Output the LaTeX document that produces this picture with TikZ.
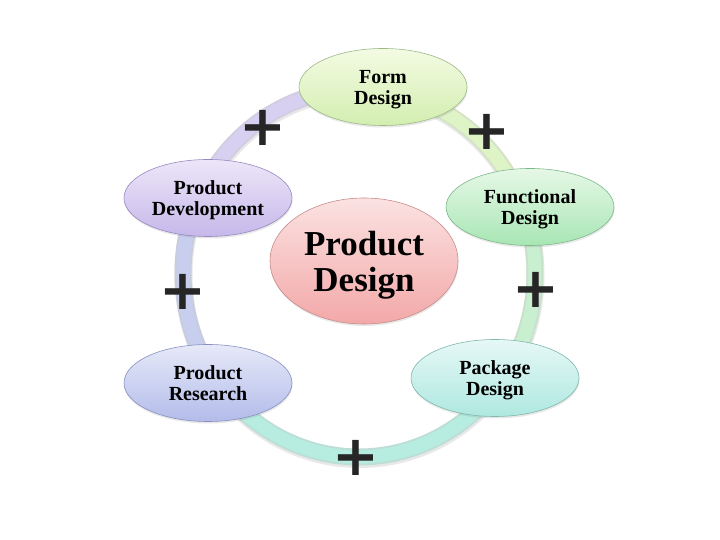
\documentclass[tikz,border=0pt]{standalone}
\usepackage{fontspec}
\setmainfont{Liberation Serif}
\newfontfamily\plusfont{DejaVu Sans}
\usetikzlibrary{shapes.geometric,shadows}

\definecolor{formT}{HTML}{F3FBE3}\definecolor{formB}{HTML}{D3EEB0}\definecolor{formD}{HTML}{9DB987}
\definecolor{funcT}{HTML}{E6F8E6}\definecolor{funcB}{HTML}{A8E6B4}\definecolor{funcD}{HTML}{7DB88B}
\definecolor{packT}{HTML}{E6F8F6}\definecolor{packB}{HTML}{AEE8E0}\definecolor{packD}{HTML}{80B8B0}
\definecolor{resT}{HTML}{E6E9F8}\definecolor{resB}{HTML}{B3BCEA}\definecolor{resD}{HTML}{8890C0}
\definecolor{devT}{HTML}{EDE6F8}\definecolor{devB}{HTML}{C6B8EA}\definecolor{devD}{HTML}{9888C0}
\definecolor{cenT}{HTML}{FBE2E2}\definecolor{cenB}{HTML}{F3A8A8}\definecolor{cenD}{HTML}{C88C8C}
\definecolor{ringA}{HTML}{DEF3C6}
\definecolor{ringB}{HTML}{C8EFCF}
\definecolor{ringC}{HTML}{B6EDE0}
\definecolor{ringD}{HTML}{C8CFEE}
\definecolor{ringE}{HTML}{D8D0F0}
\definecolor{plusgray}{HTML}{262626}

\begin{document}
\begin{tikzpicture}[x=1pt,y=1pt,
  bubble/.style n args={3}{ellipse, minimum width=168pt, minimum height=77pt, inner sep=0pt,
    top color=#1, bottom color=#2, draw=#3, line width=0.6pt, align=center, text depth=0pt,
    font=\bfseries\fontsize{20}{21}\selectfont,
    drop shadow={shadow xshift=0.5pt, shadow yshift=-2pt, opacity=0.18}},
  bigbubble/.style={bubble={cenT}{cenB}{cenD}, minimum width=188pt, minimum height=126pt,
    font=\bfseries\fontsize{35}{36}\selectfont},
  ringband/.style={line width=17pt, draw=#1!88!black!70},
  ringinner/.style={line width=13pt, draw=#1},
  plusmark/.style={inner sep=0pt, text=plusgray, font=\plusfont\bfseries\fontsize{56}{56}\selectfont}
]
\useasboundingbox[fill=white] (0,0) rectangle (720,540);

\coordinate (rc) at (359,267);
% ring shadow
\draw[black!9, line width=18pt] ([shift={(0.5,-2)}]rc) ++(0:176 and 184)
  arc[start angle=0, end angle=360, x radius=176, y radius=184];
% ring segments
\foreach \sa/\ea/\c in {82/21/ringA, 21/-38/ringB, -38/-144/ringC, 216/154/ringD, 154/82/ringE}{
  \draw[ringband=\c] (rc) ++(\sa:176 and 184) arc[start angle=\sa, end angle=\ea, x radius=176, y radius=184];
  \draw[ringinner=\c] (rc) ++(\sa:176 and 184) arc[start angle=\sa, end angle=\ea, x radius=176, y radius=184];
}

% nodes
\node[bubble={formT}{formB}{formD}] (form) at (383,453) {Form\\Design};
\node[bubble={funcT}{funcB}{funcD}] (func) at (530,333) {Functional\\Design};
\node[bubble={packT}{packB}{packD}] (pack) at (495,162) {Package\\Design};
\node[bubble={resT}{resB}{resD}] (res) at (208,157) {Product\\Research};
\node[bubble={devT}{devB}{devD}] (dev) at (208,342) {Product\\Development};
\node[bigbubble] (cen) at (364,279) {Product\\Design};

% plus signs
\node[plusmark] (p1) at (263,412) {+};
\node[plusmark] (p2) at (487,408) {+};
\node[plusmark] (p3) at (536,250) {+};
\node[plusmark] (p4) at (356,82) {+};
\node[plusmark] (p5) at (183,248) {+};
\end{tikzpicture}
\end{document}
